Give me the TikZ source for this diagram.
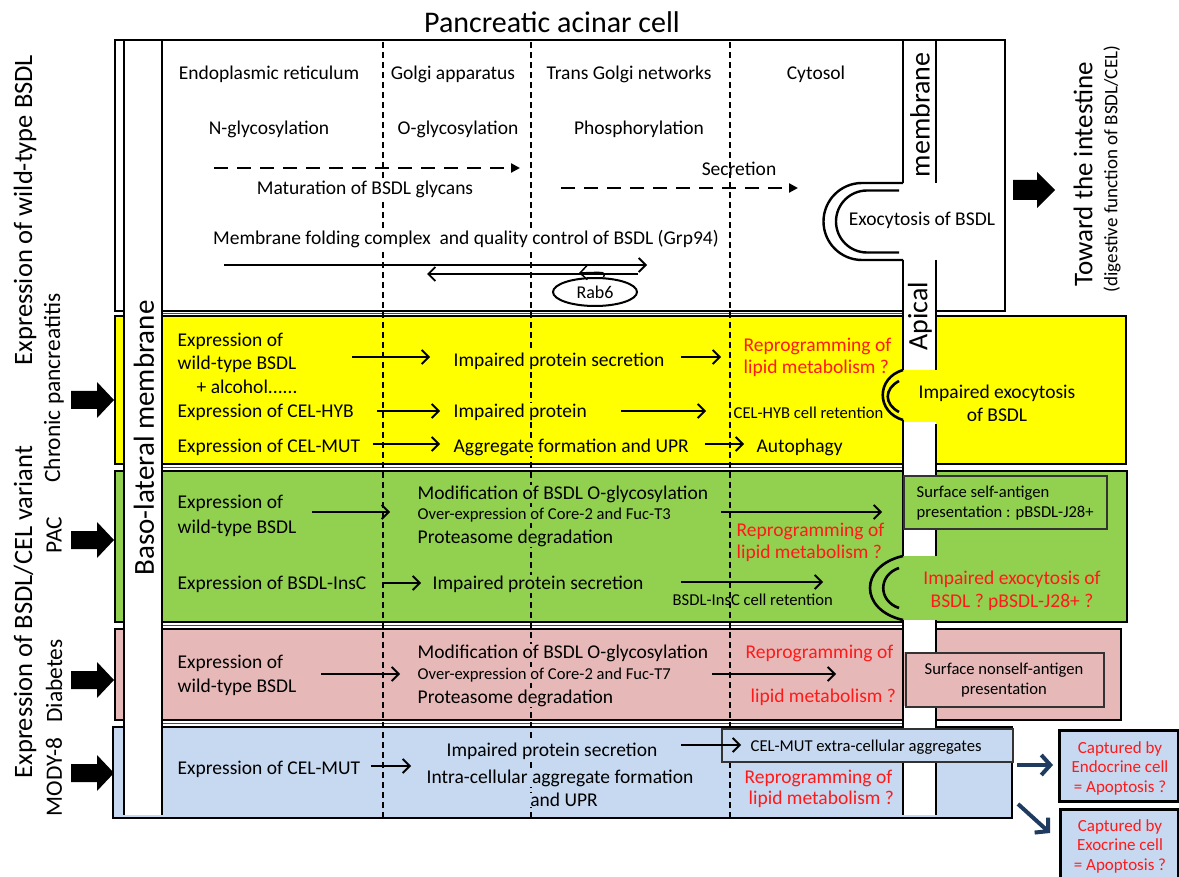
\documentclass[tikz,border=0pt]{standalone}
\usepackage{fontspec}
\setmainfont{Carlito}
\usetikzlibrary{arrows.meta,shapes.geometric}
\definecolor{cyel}{HTML}{FFFF00}
\definecolor{cgrn}{HTML}{92D050}
\definecolor{cpnk}{HTML}{E6B9B8}
\definecolor{cblu}{HTML}{C6D9F1}
\definecolor{cred}{HTML}{FF1A1A}
\definecolor{cnavy}{HTML}{1F3B60}
\newcommand{\fsz}[1]{\fontsize{#1}{#1}\selectfont}
\newcommand{\mkarrow}[4]{\coordinate (#1s) at (#2); \coordinate (#1e) at (#3); \draw[#4] (#1s) -- (#1e);}
\begin{document}
\begin{tikzpicture}[x=1pt,y=-1pt,
  rowbox/.style={draw=black,line width=2pt},
  gapline/.style={draw=black!70,line width=0.9pt},
  vdash/.style={draw=black,line width=1.1pt,dash pattern=on 6pt off 4pt},
  mline/.style={draw=black,line width=2.6pt},
  tx/.style={inner sep=0.5pt,font=\fsz{19.5}},
  sm/.style={inner sep=0.5pt,font=\fsz{16.6}},
  rd/.style={text=cred},
  rot/.style={rotate=90,inner sep=0pt},
  arr/.style={draw=black,line width=1.8pt,-{Straight Barb[length=7pt,width=14pt]}},
  darr/.style={draw=black,line width=2.2pt,dash pattern=on 14pt off 9pt,-{Triangle[length=9pt,width=9pt]}},
  narr/.style={draw=cnavy,line width=4pt,-{Straight Barb[length=9pt,width=20pt]}},
  inbox/.style={draw=black!80,line width=1.5pt,anchor=north west,inner sep=0pt},
  capbox/.style={draw=black,line width=3pt,fill=cblu,anchor=north west,inner sep=0pt},
  capt/.style={font=\fontsize{17}{19.5}\selectfont,text=cred,align=center,inner sep=0pt},
]
\fill[white] (0,0) rectangle (1179,877);
\useasboundingbox (0,0) rectangle (1179,877);
\clip (0,0) rectangle (1179,877);

% rows
\draw[rowbox,fill=white] (115,40) rectangle (1005,311);
\draw[rowbox,fill=cyel] (115,316) rectangle (1126,464);
\draw[rowbox,fill=cgrn] (115,471) rectangle (1127,622);
\draw[rowbox,fill=cpnk] (115,629) rectangle (1121,720);
\draw[rowbox,fill=cblu] (113,727) rectangle (1012,818);
\foreach \y in {313.5,467.5,625.5,723.5} \draw[gapline] (162,\y) -- (903,\y);

% dashed columns
\foreach \x in {383,531,730} \draw[vdash] (\x,42) -- (\x,817);

% baso-lateral membrane band
\fill[white] (124,41) rectangle (162,815);
\draw[mline] (124,40) -- (124,815);
\draw[mline] (162,40) -- (162,815);

% apical membrane band
\foreach \a/\b in {41/183, 260/370, 422/475, 528/556, 620/652, 706/728, 761/815}
  \fill[white] (903,\a) rectangle (936,\b);
\foreach \a/\b in {40/183, 260/370, 420/556, 620/815}
  \draw[mline] (903,\a) -- (903,\b);
\foreach \a/\b in {40/183, 260/370, 424/556, 620/815}
  \draw[mline] (936,\a) -- (936,\b);

% exocytosis cups
\draw[mline,line width=2.4pt] (903,183) -- (862,183) arc[start angle=270,end angle=90,radius=38.5] -- (903,260);
\draw[mline,line width=2.4pt] (899,190.5) -- (867,190.5) arc[start angle=270,end angle=90,radius=31] -- (899,252.5);
\draw[mline] (903,370) .. controls (876,378) and (876,412) .. (903,420);
\draw[mline] (899,381) .. controls (884,389) and (884,404) .. (899,412);
\draw[mline] (903,556) .. controls (859,566) and (859,610) .. (903,620);
\draw[mline] (899,568) .. controls (878,575) and (878,601) .. (899,608);

% boxes on the apical side
\node[inbox,fill=cgrn,minimum width=203pt,minimum height=53pt] (selfbox) at (903,475) {};
\node[inbox,fill=cpnk,minimum width=198pt,minimum height=54pt] (nselfbox) at (905,652) {};
\node[inbox,fill=cblu,minimum width=291pt,minimum height=33pt] (aggbox) at (721,728) {};

% title
\node[font=\fsz{30}] (title) at (552,22) {Pancreatic acinar cell};

% top row
\node[tx] (er) at (269,74) {Endoplasmic reticulum};
\node[tx] (ga) at (453,74) {Golgi apparatus};
\node[tx] (tgn) at (629,74) {Trans Golgi networks};
\node[tx] (cyt) at (816,74) {Cytosol};
\node[tx] (ngl) at (269,129) {N-glycosylation};
\node[tx] (ogl) at (458,129) {O-glycosylation};
\node[tx] (pho) at (639,129) {Phosphorylation};
\node[tx,fill=white] (mat) at (365,189) {Maturation of BSDL glycans};
\node[tx] (sec) at (739,169) {Secretion};
\node[tx] (exo) at (922,220) {Exocytosis of BSDL};
\node[tx,fill=white] (mfc) at (466,239) {Membrane folding complex~ and quality control of BSDL (Grp94)};
\node[draw,ellipse,line width=2pt,minimum width=84pt,minimum height=28pt,inner sep=0pt,font=\fsz{18}] (rab) at (595,292) {Rab6};
\node[rot,font=\fsz{28}] (memtxt) at (920,115) {membrane};
\node[rot,font=\fsz{28}] (apitxt) at (920,316) {Apical};
\mkarrow{d1}{214,168}{520,168}{darr}
\mkarrow{d2}{561,188}{798,188}{darr}
\mkarrow{q1}{224,265}{647,265}{arr}
\mkarrow{q2}{638,274}{427,274}{arr}
\coordinate (rq) at (579,273);
\draw[arr,line width=1.5pt] (rab.60) .. controls (606,272) .. (rq);

% yellow row
\node[tx,anchor=west] (y1) at (177,341) {Expression of};
\node[tx,anchor=west] (y2) at (177,364) {wild-type BSDL};
\node[tx,anchor=west] (y3) at (196,387) {+ alcohol......};
\node[tx,anchor=west] (y4) at (177,412) {Expression of CEL-HYB};
\node[tx,anchor=west] (y5) at (177,447) {Expression of CEL-MUT};
\node[tx,anchor=west,fill=cyel] (y6) at (453,361) {Impaired protein secretion};
\node[tx,anchor=west,fill=cyel] (y7) at (453,412) {Impaired protein};
\node[tx,anchor=west,fill=cyel] (y8) at (453,447) {Aggregate formation and UPR};
\node[tx,anchor=west,rd] (y9) at (743,346) {Reprogramming of};
\node[tx,anchor=west,rd] (y10) at (743,368) {lipid metabolism ?};
\node[sm,anchor=west] (y11) at (733,413) {CEL-HYB cell retention};
\node[tx,anchor=west] (y12) at (756,447) {Autophagy};
\node[tx] (y13) at (997,393) {Impaired exocytosis};
\node[tx] (y14) at (997,415) {of BSDL};
\mkarrow{ya1}{352,357}{430,357}{arr}
\mkarrow{ya2}{377,411}{440,411}{arr}
\mkarrow{ya3}{373,444}{440,444}{arr}
\mkarrow{ya4}{681,357}{721,357}{arr}
\mkarrow{ya5}{621,411}{706,411}{arr}
\mkarrow{ya6}{705,444}{744,444}{arr}

% green row
\node[tx,anchor=west] (g1) at (177,503) {Expression of};
\node[tx,anchor=west] (g2) at (177,528) {wild-type BSDL};
\node[tx,anchor=west,fill=cgrn] (g3) at (417,494) {Modification of BSDL O-glycosylation};
\node[sm,anchor=west,fill=cgrn] (g4) at (417,515) {Over-expression of Core-2 and Fuc-T3};
\node[tx,anchor=west,fill=cgrn] (g5) at (417,538) {Proteasome degradation};
\node[tx,anchor=west,rd] (g6) at (736,531) {Reprogramming of};
\node[tx,anchor=west,rd] (g7) at (736,553) {lipid metabolism ?};
\node[tx,anchor=west] (g8) at (177,584) {Expression of BSDL-InsC};
\node[tx,anchor=west,fill=cgrn] (g9) at (432,584) {Impaired protein secretion};
\node[sm,anchor=west] (g10) at (672,600) {BSDL-InsC cell retention};
\node[sm,anchor=west] (g11) at (916,493) {Surface self-antigen};
\node[sm,anchor=west] (g12) at (916,513) {presentation : pBSDL-J28+};
\node[tx,rd] (g13) at (1012,579) {Impaired exocytosis of};
\node[tx,rd] (g14) at (1012,602) {BSDL ? pBSDL-J28+ ?};
\mkarrow{ga1}{312,512}{390,512}{arr}
\mkarrow{ga2}{721,512}{882,512}{arr}
\mkarrow{ga3}{383,583}{421,583}{arr}
\mkarrow{ga4}{681,582}{823,582}{arr}

% pink row
\node[tx,anchor=west] (p1) at (177,663) {Expression of};
\node[tx,anchor=west] (p2) at (177,687) {wild-type BSDL};
\node[tx,anchor=west,fill=cpnk] (p3) at (417,653) {Modification of BSDL O-glycosylation};
\node[sm,anchor=west,fill=cpnk] (p4) at (417,675) {Over-expression of Core-2 and Fuc-T7};
\node[tx,anchor=west,fill=cpnk] (p5) at (417,698) {Proteasome degradation};
\node[tx,anchor=west,rd] (p6) at (745,653) {Reprogramming of};
\node[tx,anchor=west,rd] (p7) at (750,697) {lipid metabolism ?};
\node[sm] (p8) at (1004,670) {Surface nonself-antigen};
\node[sm] (p9) at (1004,690) {presentation};
\mkarrow{pa1}{321,674}{400,674}{arr}
\mkarrow{pa2}{712,674}{836,674}{arr}

% blue row
\node[tx,anchor=west] (b1) at (177,769) {Expression of CEL-MUT};
\node[tx,fill=cblu] (b2) at (552,751) {Impaired protein secretion};
\node[tx,fill=cblu] (b3) at (560,778) {Intra-cellular aggregate formation};
\node[tx,fill=cblu] (b4) at (564,800) {and UPR};
\node[sm,anchor=west] (b5) at (750,747) {CEL-MUT extra-cellular aggregates};
\node[tx,anchor=west,rd] (b6) at (744,778) {Reprogramming of};
\node[tx,anchor=west,rd] (b7) at (748,799) {lipid metabolism ?};
\mkarrow{ba1}{371,766}{411,766}{arr}
\mkarrow{ba2}{681,745}{741,745}{arr}

% captured boxes
\node[capbox,minimum width=119pt,minimum height=71pt] (cap1) at (1058,729) {};
\node[capbox,minimum width=118pt,minimum height=82pt] (cap2) at (1059,808) {};
\node[capt] (cap1t) at (1120,768) {Captured by\\Endocrine cell\\= Apoptosis ?};
\node[capt] (cap2t) at (1120,846) {Captured by\\Exocrine cell\\= Apoptosis ?};
\mkarrow{na1}{1017,765}{1053,765}{narr}
\mkarrow{na2}{1018,804}{1050,833}{narr}

% side labels
\node[rot,font=\fsz{26.5}] (lab1) at (25,210) {Expression of wild-type BSDL};
\node[rot,font=\fsz{26.5}] (lab2) at (25,612) {Expression of BSDL/CEL variant};
\node[rot,font=\fsz{23.4}] (lab3) at (54,388) {Chronic pancreatitis};
\node[rot,font=\fsz{23.4}] (lab4) at (54,535) {PAC};
\node[rot,font=\fsz{23.4}] (lab5) at (54,681) {Diabetes};
\node[rot,font=\fsz{23.4}] (lab6) at (54,777) {MODY-8};
\node[rot,font=\fsz{29}] (baso) at (144,438) {Baso-lateral membrane};
\node[rot,font=\fsz{27}] (tow1) at (1083,174) {Toward the intestine};
\node[rot,font=\fsz{19}] (tow2) at (1112,169) {(digestive function of BSDL/CEL)};

% block arrows
\foreach \c in {400,540,680,773}
  \fill[black] (71,{\c-9}) -- (97,{\c-9}) -- (97,{\c-18}) -- (114,\c) -- (97,{\c+18}) -- (97,{\c+9}) -- (71,{\c+9}) -- cycle;
\fill[black] (1013,180) -- (1037,180) -- (1037,172) -- (1055,190) -- (1037,208) -- (1037,200) -- (1013,200) -- cycle;
\end{tikzpicture}
\end{document}
